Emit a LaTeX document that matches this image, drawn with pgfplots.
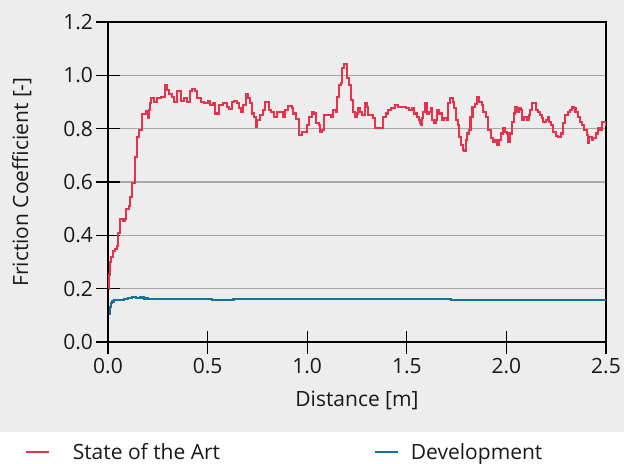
\documentclass[border=0pt]{standalone}
\usepackage{fontspec}
\setmainfont{Open Sans}
\usepackage{pgfplots}
\pgfplotsset{compat=1.18}
\definecolor{bg}{HTML}{EDEDED}
\definecolor{redc}{RGB}{230,50,75}
\definecolor{bluec}{RGB}{22,115,150}
\definecolor{gridc}{HTML}{A8A8A8}
\newcommand{\bigfont}{\fontsize{21bp}{25bp}\selectfont}
\begin{document}
\begin{tikzpicture}
\fill[bg] (-108bp,-90bp) rectangle (516bp,342bp);
\fill[white] (-108bp,-122bp) rectangle (516bp,-90bp);
\useasboundingbox (-108bp,-122bp) rectangle (516bp,342bp);
\begin{axis}[
  at={(0,0)}, anchor=south west,
  scale only axis, width=498bp, height=320bp,
  xmin=0, xmax=2.5, ymin=0, ymax=1.2,
  xtick={0,0.5,1,1.5,2,2.5},
  ytick={0,0.2,0.4,0.6,0.8,1.0,1.2},
  xtick pos=bottom, ytick pos=left,
  tick align=center, major tick length=23bp,
  tick style={black, line width=1.1bp},
  axis line style={black, line width=1.1bp},
  ymajorgrids, major grid style={gridc, line width=1.2bp},
  /pgf/number format/.cd, fixed, fixed zerofill, precision=1, assume math mode=true,
  /pgfplots/.cd,
  tick label style={font=\bigfont, text=black!90},
  label style={font=\bigfont, text=black!90},
  xticklabel shift=1bp,
  xlabel shift=11bp,
  ylabel shift=25bp,
  xlabel={Distance [m]},
  ylabel={Friction Coefficient [-]},
  legend columns=2,
  legend style={at={(-0.1667,-0.344)}, anchor=west, draw=none, fill=none,
    inner sep=0pt, outer sep=0pt, font=\bigfont,
    nodes={inner sep=0pt, text=black!90},
    /tikz/every even column/.append style={column sep=154bp}},
]
\addplot[const plot, color=redc, line width=2.1bp,
  legend image code/.code={\draw[redc, line width=1.6bp] (0bp,0bp) -- (23bp,0bp); \path[draw=none] (0bp,0bp) -- (47bp,0bp);}]
coordinates {
(0.003,0.20) (0.006,0.25) (0.012,0.30) (0.017,0.32) (0.025,0.34) (0.035,0.35)
(0.044,0.36) (0.05,0.41) (0.06,0.46) (0.075,0.455) (0.084,0.46) (0.089,0.50)
(0.105,0.51) (0.11,0.545) (0.122,0.595) (0.13,0.595) (0.134,0.695) (0.144,0.71)
(0.147,0.77) (0.156,0.795) (0.167,0.795) (0.172,0.855) (0.19,0.865) (0.2,0.84)
(0.205,0.87) (0.21,0.895) (0.217,0.915) (0.23,0.90) (0.248,0.915) (0.268,0.92)
(0.281,0.92) (0.288,0.965) (0.298,0.945) (0.308,0.93) (0.323,0.92) (0.331,0.90)
(0.345,0.94) (0.358,0.94) (0.365,0.905) (0.381,0.915) (0.395,0.90) (0.412,0.94)
(0.423,0.95) (0.435,0.94) (0.448,0.915) (0.465,0.90) (0.48,0.895) (0.50,0.905)
(0.512,0.89) (0.525,0.895) (0.537,0.857) (0.55,0.857) (0.559,0.89) (0.579,0.895)
(0.596,0.88) (0.609,0.873) (0.621,0.90) (0.633,0.905) (0.646,0.895) (0.659,0.876)
(0.666,0.864) (0.676,0.889) (0.693,0.93) (0.704,0.914) (0.713,0.895) (0.721,0.857)
(0.733,0.845) (0.741,0.807) (0.746,0.832) (0.763,0.851) (0.776,0.87) (0.788,0.90)
(0.80,0.90) (0.81,0.87) (0.82,0.864) (0.833,0.845) (0.847,0.864) (0.863,0.864)
(0.877,0.845) (0.889,0.87) (0.905,0.885) (0.922,0.876) (0.93,0.857) (0.944,0.835)
(0.955,0.835) (0.96,0.776) (0.972,0.789) (0.989,0.789) (0.997,0.814) (1.01,0.845)
(1.023,0.864) (1.034,0.857) (1.044,0.82) (1.06,0.814) (1.064,0.786) (1.076,0.795)
(1.086,0.851) (1.106,0.851) (1.12,0.845) (1.131,0.87) (1.143,0.864) (1.15,0.92)
(1.16,0.964) (1.17,0.97) (1.176,1.026) (1.186,1.041) (1.198,1.039) (1.20,0.989)
(1.211,0.964) (1.22,0.907) (1.231,0.864) (1.24,0.845) (1.249,0.857) (1.257,0.876)
(1.265,0.864) (1.277,0.851) (1.29,0.895) (1.30,0.882) (1.307,0.851) (1.32,0.851)
(1.332,0.839) (1.34,0.804) (1.357,0.804) (1.37,0.804) (1.382,0.845) (1.394,0.857)
(1.407,0.87) (1.42,0.876) (1.441,0.889) (1.457,0.882) (1.477,0.882) (1.494,0.876)
(1.511,0.87) (1.528,0.876) (1.538,0.857) (1.55,0.845) (1.561,0.832) (1.566,0.82)
(1.571,0.814) (1.578,0.839) (1.58,0.864) (1.59,0.895) (1.603,0.857) (1.613,0.864)
(1.62,0.876) (1.625,0.832) (1.636,0.82) (1.647,0.832) (1.653,0.87) (1.663,0.857)
(1.675,0.832) (1.687,0.839) (1.70,0.832) (1.708,0.895) (1.717,0.914) (1.73,0.90)
(1.737,0.876) (1.747,0.832) (1.759,0.814) (1.764,0.77) (1.771,0.739) (1.78,0.72)
(1.787,0.717) (1.797,0.757) (1.804,0.782) (1.814,0.795) (1.82,0.845) (1.83,0.882)
(1.842,0.892) (1.854,0.92) (1.864,0.90) (1.876,0.889) (1.884,0.864) (1.898,0.845)
(1.909,0.795) (1.921,0.764) (1.931,0.751) (1.943,0.757) (1.954,0.739) (1.964,0.757)
(1.971,0.782) (1.981,0.801) (1.993,0.789) (2.004,0.782) (2.01,0.751) (2.018,0.782)
(2.027,0.826) (2.038,0.857) (2.045,0.882) (2.052,0.864) (2.063,0.876) (2.073,0.87)
(2.08,0.832) (2.09,0.845) (2.102,0.832) (2.114,0.851) (2.118,0.87) (2.127,0.895)
(2.14,0.895) (2.147,0.87) (2.157,0.864) (2.169,0.851) (2.177,0.839) (2.185,0.826)
(2.197,0.832) (2.207,0.845) (2.214,0.826) (2.224,0.814) (2.236,0.789) (2.248,0.772)
(2.261,0.77) (2.275,0.782) (2.286,0.82) (2.294,0.851) (2.307,0.864) (2.319,0.87)
(2.331,0.882) (2.341,0.876) (2.347,0.864) (2.358,0.845) (2.369,0.826) (2.381,0.814)
(2.391,0.795) (2.403,0.776) (2.408,0.745) (2.415,0.77) (2.428,0.757) (2.436,0.764)
(2.448,0.782) (2.458,0.801) (2.47,0.795) (2.478,0.826) (2.491,0.826) (2.498,0.814)
(2.5,0.814)
};
\addlegendentry{State of the Art}
\addplot[const plot, color=bluec, line width=2.1bp,
  legend image code/.code={\draw[bluec, line width=1.6bp] (0bp,0bp) -- (23bp,0bp); \path[draw=none] (0bp,0bp) -- (36bp,0bp);}]
coordinates {
(0.003,0.105) (0.008,0.13) (0.013,0.145) (0.02,0.152) (0.03,0.156) (0.05,0.159)
(0.08,0.161) (0.10,0.166) (0.12,0.168) (0.14,0.165) (0.16,0.167) (0.18,0.163)
(0.20,0.162) (0.3,0.161) (0.5,0.161) (0.52,0.157) (0.55,0.158) (0.58,0.157)
(0.62,0.158) (0.63,0.161) (1.70,0.161) (1.72,0.158) (1.76,0.159) (1.80,0.157)
(1.83,0.159) (1.86,0.156) (1.90,0.159) (1.95,0.157) (2.0,0.158) (2.05,0.157)
(2.1,0.159) (2.15,0.157) (2.2,0.159) (2.25,0.157) (2.3,0.159) (2.35,0.157)
(2.4,0.159) (2.45,0.156) (2.5,0.16)
};
\addlegendentry{Development}
\end{axis}
\end{tikzpicture}
\end{document}
